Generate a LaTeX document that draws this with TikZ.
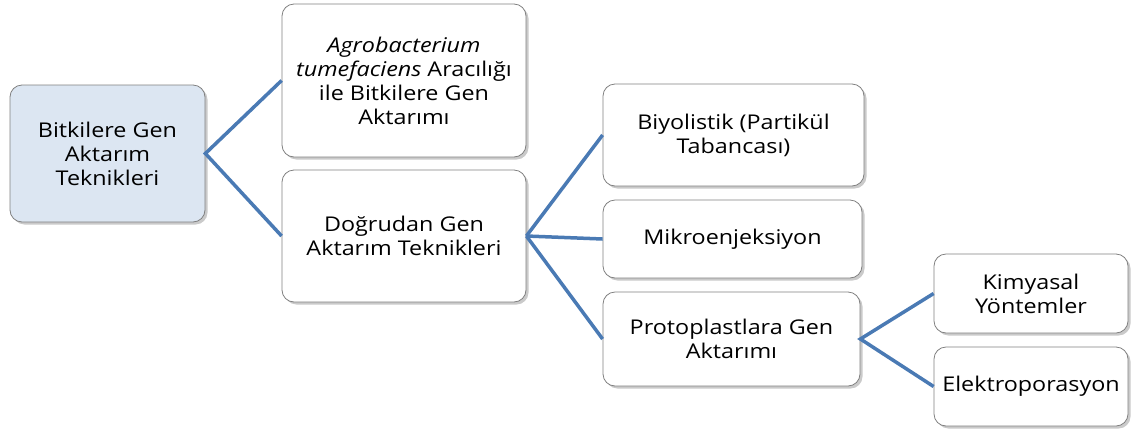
\documentclass[tikz,border=0pt]{standalone}
\usepackage{fontspec}
\setmainfont{Open Sans}[FakeStretch=1.15]
\usetikzlibrary{shadows}
\definecolor{linkblue}{RGB}{74,122,180}
\definecolor{rootfill}{RGB}{220,230,242}
\definecolor{boxborder}{RGB}{128,128,128}
\tikzset{
  box/.style={draw=boxborder, line width=0.8pt, rounded corners=12pt, fill=white,
    align=center, inner sep=2pt,
    font=\fontsize{20.3}{24}\selectfont,
    drop shadow={shadow xshift=2.5pt, shadow yshift=-2.5pt, opacity=0.35, fill=black!60}},
  rootbox/.style={box, fill=rootfill},
  link/.style={draw=linkblue, line width=3.5pt}
}
\begin{document}
\begin{tikzpicture}[x=1pt,y=-1pt]
\useasboundingbox (0,0) rectangle (1133,432);
\node[rootbox, minimum width=195pt, minimum height=137pt] (root) at (107.5,153.5) {Bitkilere Gen\\Aktarım\\Teknikleri};
\node[box, minimum width=244pt, minimum height=153pt] (agro) at (404,80.5) {\textit{Agrobacterium}\\\textit{tumefaciens} Aracılığı\\ile Bitkilere Gen\\Aktarımı};
\node[box, minimum width=244pt, minimum height=132pt] (dog) at (404,236) {Doğrudan Gen\\Aktarım Teknikleri};
\node[box, minimum width=261pt, minimum height=102pt] (biy) at (733.5,135) {Biyolistik (Partikül\\Tabancası)};
\node[box, minimum width=259pt, minimum height=78pt] (mik) at (732.5,239) {Mikroenjeksiyon};
\node[box, minimum width=257pt, minimum height=94pt] (pro) at (731.5,339) {Protoplastlara Gen\\Aktarımı};
\node[box, minimum width=194pt, minimum height=79pt] (kim) at (1031,293.5) {Kimyasal\\Yöntemler};
\node[box, minimum width=194pt, minimum height=79pt] (ele) at (1031,386.5) {Elektroporasyon};
\draw[link] (agro.west) -- (root.east) -- (dog.west);
\draw[link] (dog.east) -- (biy.west);
\draw[link] (dog.east) -- (mik.west);
\draw[link] (dog.east) -- (pro.west);
\draw[link] (kim.west) -- (pro.east) -- (ele.west);
\end{tikzpicture}
\end{document}
